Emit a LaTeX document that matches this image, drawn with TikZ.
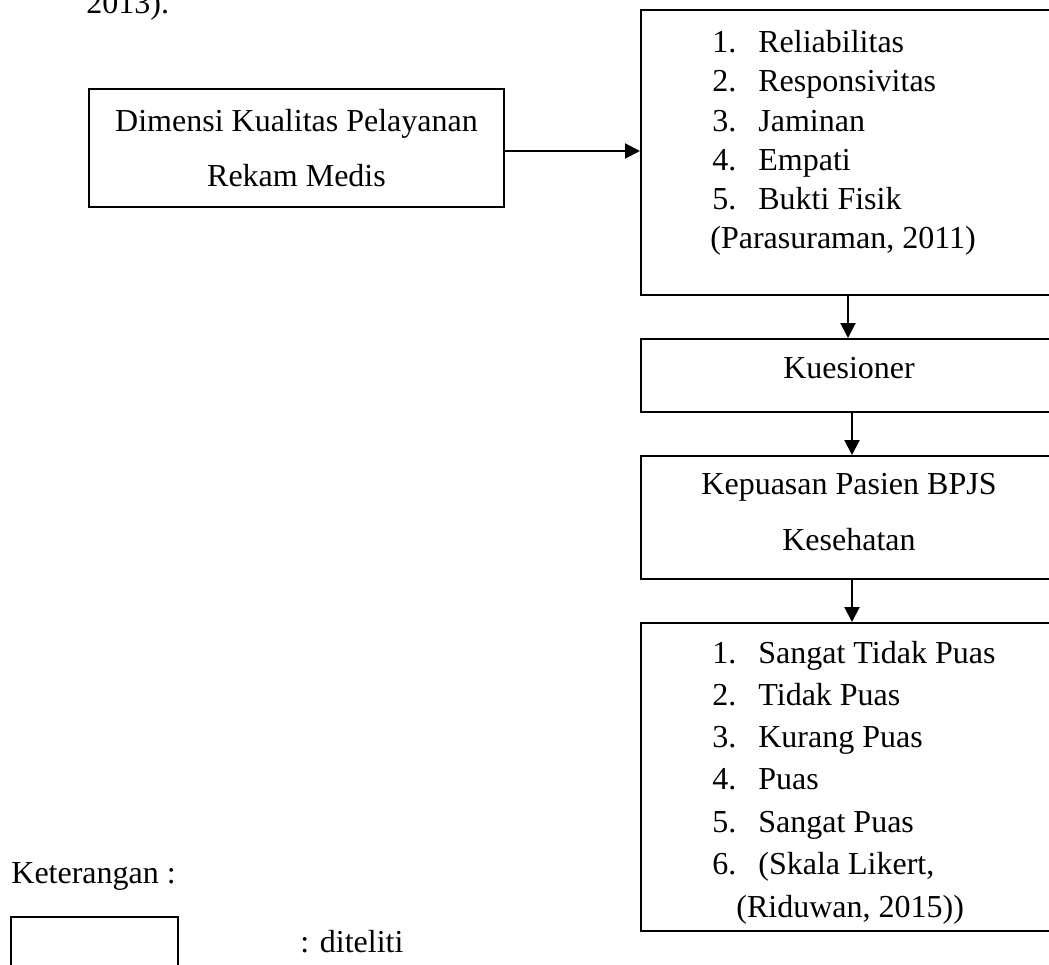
\documentclass[tikz,border=0pt]{standalone}
\usepackage{fontspec}
\setmainfont{Liberation Serif}
\usetikzlibrary{arrows.meta}
\begin{document}
\begin{tikzpicture}[x=0.5pt,y=-0.5pt,
  box/.style={draw=black,line width=1pt,rectangle,inner sep=0pt},
  txt/.style={inner sep=0pt,font=\fontsize{16}{19.6}\selectfont},
  arr/.style={line width=1pt,-{Triangle[length=7.5pt,width=7.5pt]}},
  every node/.append style={}]
\useasboundingbox (0,0) rectangle (1049,964);
\clip (0,0) rectangle (1049,964);
% boxes
\node[box,minimum width=207.5pt,minimum height=59pt] (b1) at (296.5,148) {};
\node[box,minimum width=208pt,minimum height=142.5pt] (b2) at (849,152.5) {};
\node[box,minimum width=208pt,minimum height=36.5pt] (kues) at (849,375.5) {};
\node[box,minimum width=208pt,minimum height=61.5pt] (kep) at (849,517.5) {};
\node[box,minimum width=208pt,minimum height=154pt] (lik) at (849,777) {};
\node[box,minimum width=83.5pt,minimum height=36.5pt] (leg) at (94.5,953.5) {};
% texts
\node[txt,anchor=base west] (top) at (86,13) {2013).};
\node[txt,anchor=base] (b1a) at (296.5,131) {Dimensi Kualitas Pelayanan};
\node[txt,anchor=base] (b1b) at (296.5,186) {Rekam Medis};
\node[txt,anchor=base west] (r1) at (712,52) {\makebox[23pt][l]{1.}Reliabilitas};
\node[txt,anchor=base west] (r2) at (712,91) {\makebox[23pt][l]{2.}Responsivitas};
\node[txt,anchor=base west] (r3) at (712,131) {\makebox[23pt][l]{3.}Jaminan};
\node[txt,anchor=base west] (r4) at (712,170) {\makebox[23pt][l]{4.}Empati};
\node[txt,anchor=base west] (r5) at (712,209) {\makebox[23pt][l]{5.}Bukti Fisik};
\node[txt,anchor=base west] (r6) at (710,248) {(Parasuraman, 2011)};
\node[txt,anchor=base] (kt) at (849,378) {Kuesioner};
\node[txt,anchor=base] (kpa) at (849,494) {Kepuasan Pasien BPJS};
\node[txt,anchor=base] (kpb) at (849,550) {Kesehatan};
\node[txt,anchor=base west] (s1) at (712,663) {\makebox[23pt][l]{1.}Sangat Tidak Puas};
\node[txt,anchor=base west] (s2) at (712,705) {\makebox[23pt][l]{2.}Tidak Puas};
\node[txt,anchor=base west] (s3) at (712,747) {\makebox[23pt][l]{3.}Kurang Puas};
\node[txt,anchor=base west] (s4) at (712,789) {\makebox[23pt][l]{4.}Puas};
\node[txt,anchor=base west] (s5) at (712,832) {\makebox[23pt][l]{5.}Sangat Puas};
\node[txt,anchor=base west] (s6) at (712,874) {\makebox[23pt][l]{6.}(Skala Likert,};
\node[txt,anchor=base west] (s7) at (736,917) {(Riduwan, 2015))};
\node[txt,anchor=base west] (ket) at (11,883) {Keterangan :};
\node[txt,anchor=base west] (dit) at (300,952) {: diteliti};
% connectors
\draw[arr] ([yshift=-1.5pt]b1.east) -- ([yshift=-1.5pt]b1.east -| b2.west);
\draw[arr] ([xshift=-0.5pt]b2.south) -- ([xshift=-0.5pt]kues.north);
\draw[arr] ([xshift=1.5pt]kues.south) -- ([xshift=1.5pt]kep.north);
\draw[arr] ([xshift=1.5pt]kep.south) -- ([xshift=1.5pt]lik.north);
\end{tikzpicture}
\end{document}
